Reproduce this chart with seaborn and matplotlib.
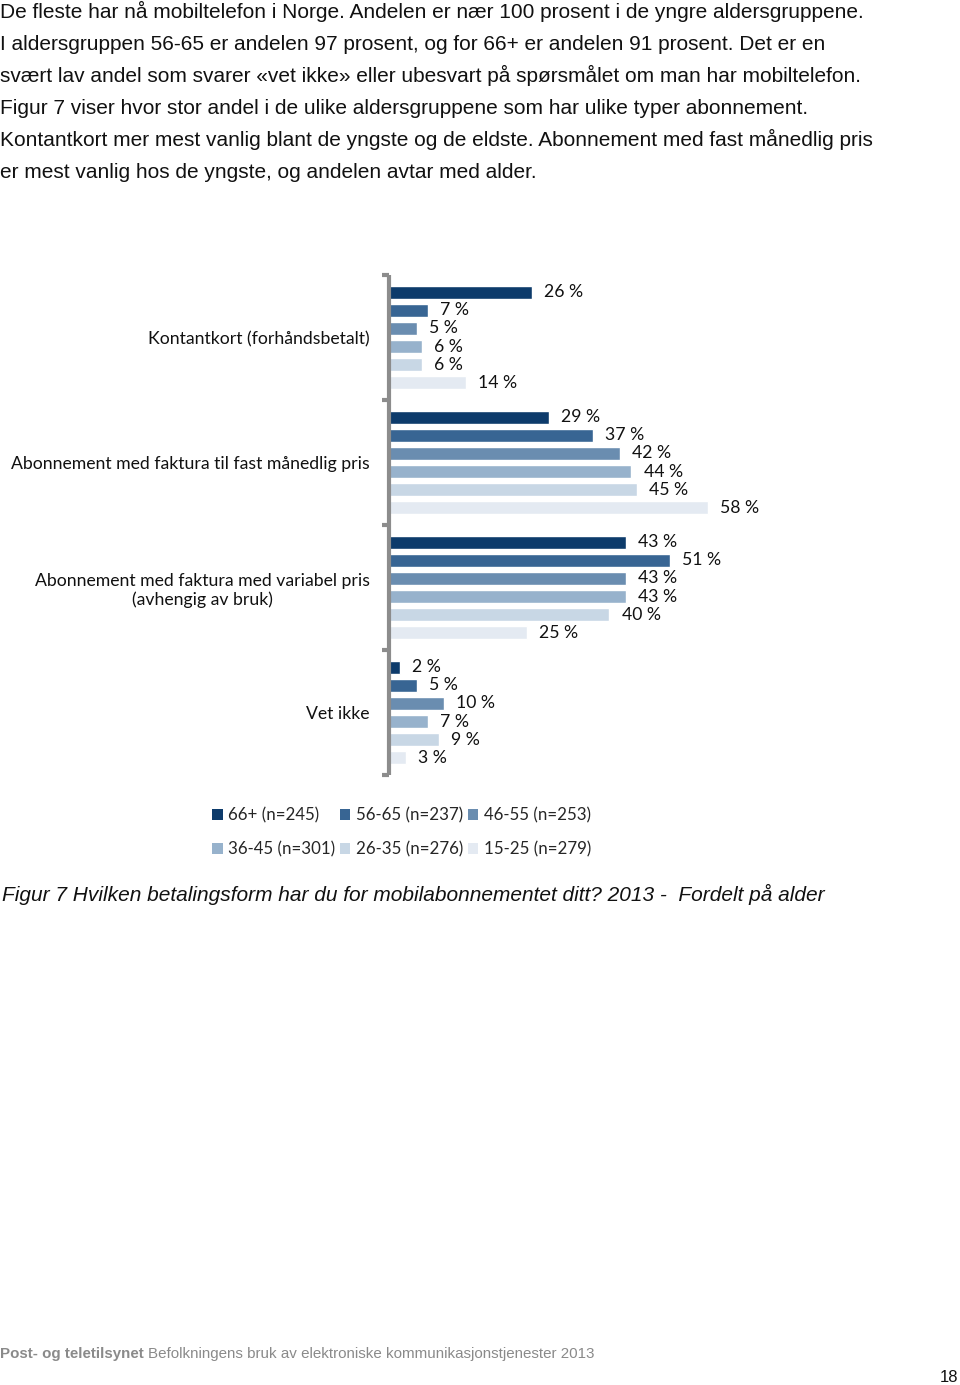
import matplotlib
matplotlib.use("Agg")
import matplotlib.pyplot as plt
import seaborn as sns
import pandas as pd
from matplotlib.patches import Patch

categories = [
    "Kontantkort (forhåndsbetalt)",
    "Abonnement med faktura til fast månedlig pris",
    "Abonnement med faktura med variabel pris\n(avhengig av bruk)",
    "Vet ikke",
]
age_groups = ["66+ (n=245)", "56-65 (n=237)", "46-55 (n=253)",
              "36-45 (n=301)", "26-35 (n=276)", "15-25 (n=279)"]
values_66 = [26, 29, 43, 2]
values_56 = [7, 37, 51, 5]
values_46 = [5, 42, 43, 10]
values_36 = [6, 44, 43, 7]
values_26 = [6, 45, 40, 9]
values_15 = [14, 58, 25, 3]
colors = ["#0d3b6b", "#386593", "#6a8db0", "#97b2cc", "#c8d7e5", "#e4eaf2"]

series = [values_66, values_56, values_46, values_36, values_26, values_15]
rows = []
for g, vals in zip(age_groups, series):
    for c, v in zip(categories, vals):
        rows.append({"cat": c, "age": g, "val": v})
df = pd.DataFrame(rows)

sns.set_theme(style="white")
plt.rcParams["font.family"] = ["Lato", "DejaVu Sans"]

W, H = 960, 1385
fig = plt.figure(figsize=(W / 100, H / 100), dpi=100)
fig.patch.set_facecolor("white")

ax_left, ax_top, ax_bot = 389, 275, 775
ax = fig.add_axes([ax_left / W, 1 - ax_bot / H, 560 / W, (ax_bot - ax_top) / H])
sns.barplot(data=df, y="cat", x="val", hue="age", order=categories,
            hue_order=age_groups, palette=colors, orient="h",
            width=0.87, gap=0.27, saturation=1, ax=ax, legend=False)
ax.set_xlim(0, 560 / 5.5)
ax.set_ylim(3.5, -0.5)
ax.set_xlabel("")
ax.set_ylabel("")
ax.set_xticks([])
for s in ["top", "right", "bottom"]:
    ax.spines[s].set_visible(False)
ax.spines["left"].set_color("#8c8c8c")
ax.spines["left"].set_linewidth(3)
ax.spines["left"].set_capstyle("butt")

ax.set_yticks(range(len(categories)))
ax.set_yticklabels(categories, fontsize=12.7, color="#111111")
for t in ax.get_yticklabels():
    t.set_multialignment("center")
ax.tick_params(axis="y", which="major", length=0, pad=14)
ax.set_yticks([-0.5, 0.5, 1.5, 2.5, 3.5], minor=True)
ax.tick_params(axis="y", which="minor", length=5, width=3, color="#8c8c8c", left=True)

for cont in ax.containers:
    ax.bar_label(cont, labels=[f"{int(v)} %" for v in cont.datavalues],
                 padding=9, fontsize=12.7, color="#111111")

handles = [Patch(facecolor=c, edgecolor="none") for c in colors]
order = [0, 3, 1, 4, 2, 5]
fig.legend([handles[i] for i in order], [age_groups[i] for i in order],
           ncol=3, loc="upper left", bbox_to_anchor=(212 / W, 1 - 807 / H),
           frameon=False, fontsize=12.2, handlelength=0.62, handleheight=0.62,
           handletextpad=0.35, columnspacing=0.25, labelspacing=1.1,
           borderaxespad=0, borderpad=0)

intro = [
    "De fleste har nå mobiltelefon i Norge. Andelen er nær 100 prosent i de yngre aldersgruppene.",
    "I aldersgruppen 56-65 er andelen 97 prosent, og for 66+ er andelen 91 prosent. Det er en",
    "svært lav andel som svarer «vet ikke» eller ubesvart på spørsmålet om man har mobiltelefon.",
    "Figur 7 viser hvor stor andel i de ulike aldersgruppene som har ulike typer abonnement.",
    "Kontantkort mer mest vanlig blant de yngste og de eldste. Abonnement med fast månedlig pris",
    "er mest vanlig hos de yngste, og andelen avtar med alder.",
]
for i, line in enumerate(intro):
    fig.text(0 / W, 1 - (18 + 32 * i) / H, line, fontsize=15,
             family="Liberation Sans", color="#111111", va="baseline", ha="left")

fig.text(2 / W, 1 - 901 / H,
         "Figur 7 Hvilken betalingsform har du for mobilabonnementet ditt? 2013 -  Fordelt på alder",
         fontsize=15, family="Liberation Sans", style="italic", color="#111111",
         va="baseline", ha="left")

t1 = fig.text(0, 1 - 1358 / H, "Post- og teletilsynet", fontsize=10.9,
              family="Liberation Sans", weight="bold", color="#8a8a8a",
              va="baseline", ha="left")
fig.canvas.draw()
bb = t1.get_window_extent()
fig.text(bb.x1 / W + 4 / W, 1 - 1358 / H,
         "Befolkningens bruk av elektroniske kommunikasjonstjenester 2013",
         fontsize=10.9, family="Liberation Sans", color="#8a8a8a",
         va="baseline", ha="left")
fig.text(958 / W, 1 - 1382 / H, "18", fontsize=12, family="Liberation Sans",
         color="#111111", va="baseline", ha="right")

fig.savefig("out.png", dpi=100, facecolor="white")
